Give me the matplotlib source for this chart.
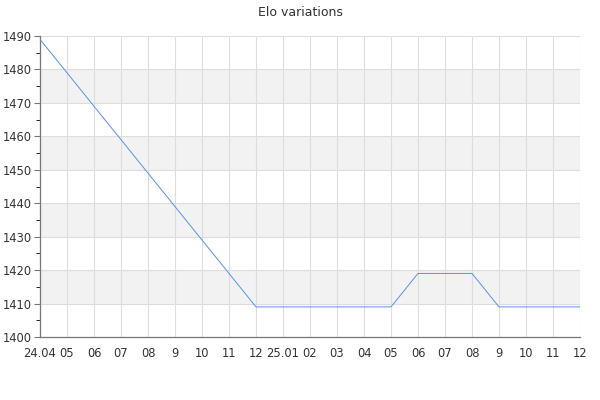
import matplotlib
matplotlib.use("Agg")
import matplotlib.pyplot as plt
from matplotlib.ticker import MultipleLocator

labels = ["24.04", "05", "06", "07", "08", "9", "10", "11", "12", "25.01",
          "02", "03", "04", "05", "06", "07", "08", "9", "10", "11", "12"]
elo = [1489, 1479, 1469, 1459, 1449, 1439, 1429, 1419, 1409, 1409,
       1409, 1409, 1409, 1409, 1419, 1419, 1419, 1409, 1409, 1409, 1409]

x = list(range(len(labels)))

fig = plt.figure(figsize=(6, 4), dpi=100)
ax = fig.add_axes([40/600, 63/400, 540/600, 301/400])

ax.set_xlim(0, len(labels) - 1)
ax.set_ylim(1400, 1490)

# alternating grey bands
for lo in range(1410, 1490, 20):
    ax.axhspan(lo, lo + 10, color="#f2f2f2", zorder=0, lw=0)

ax.grid(True, color="#dddddd", lw=0.8, zorder=1)
ax.set_axisbelow(True)

ax.plot(x, elo, color="#5b8ff0", lw=0.7, zorder=3)

ax.set_xticks(x)
ax.set_xticklabels(labels)
ax.yaxis.set_major_locator(MultipleLocator(10))
ax.yaxis.set_minor_locator(MultipleLocator(5))

for s in ["top", "right"]:
    ax.spines[s].set_visible(False)
for s in ["left", "bottom"]:
    ax.spines[s].set_color("#777777")
    ax.spines[s].set_linewidth(0.9)

ax.tick_params(axis="both", colors="#777777", labelcolor="#333333", labelsize=8.3)
ax.tick_params(axis="x", length=0, pad=7)
ax.tick_params(axis="y", which="major", length=4, pad=2)
ax.tick_params(axis="y", which="minor", length=3)

fig.text(0.5, 1 - 12/400, "Elo variations", fontsize=9, color="#333333",
         ha="center", va="center")

fig.savefig("out.png", dpi=100)
